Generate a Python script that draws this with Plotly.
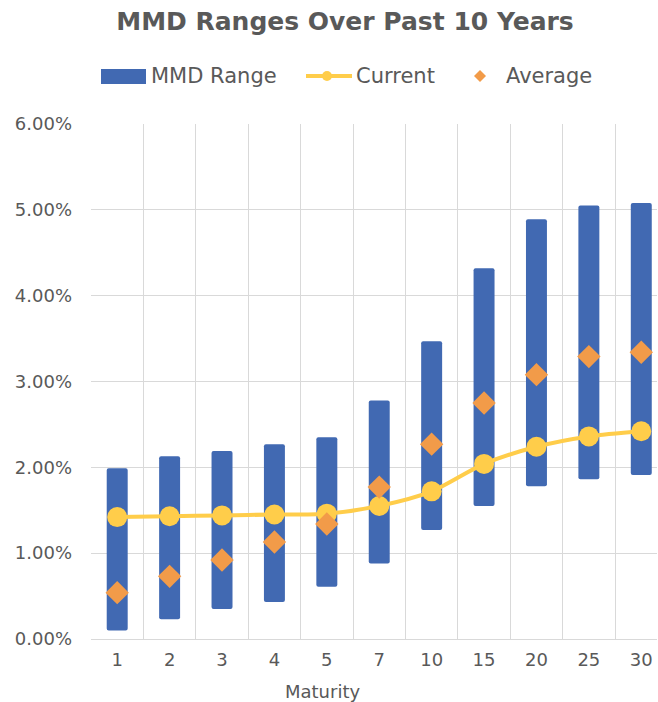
import plotly.graph_objects as go

maturities = ["1", "2", "3", "4", "5", "7", "10", "15", "20", "25", "30"]
range_low = [0.10, 0.23, 0.35, 0.43, 0.61, 0.88, 1.27, 1.55, 1.78, 1.86, 1.91]
range_high = [1.99, 2.13, 2.19, 2.27, 2.35, 2.78, 3.47, 4.32, 4.89, 5.05, 5.08]
current = [1.42, 1.43, 1.44, 1.45, 1.46, 1.55, 1.72, 2.04, 2.24, 2.36, 2.42]
average = [0.54, 0.73, 0.92, 1.13, 1.34, 1.77, 2.27, 2.75, 3.08, 3.29, 3.34]
y_ticks = [0, 1, 2, 3, 4, 5, 6]
y_tick_labels = [f"{v:.2f}%" for v in y_ticks]

BLUE = "#4169B2"
GOLD = "#FFCD4A"
ORANGE = "#F29B49"
TEXT = "#595959"
GRID = "#D9D9D9"
FONT = "DejaVu Sans"

fig = go.Figure()
fig.add_trace(go.Bar(
    x=maturities,
    y=[h - l for h, l in zip(range_high, range_low)],
    base=range_low,
    width=0.4,
    marker=dict(color=BLUE, line=dict(width=0), cornerradius=2),
    name="MMD Range",
    showlegend=False,
))
fig.add_trace(go.Scatter(
    x=maturities, y=current, mode="lines+markers",
    line=dict(color=GOLD, width=4, shape="spline", smoothing=0.8),
    marker=dict(color=GOLD, size=20),
    name="Current", showlegend=False,
))
fig.add_trace(go.Scatter(
    x=maturities, y=average, mode="markers",
    marker=dict(color=ORANGE, size=18, symbol="diamond"),
    name="Average", showlegend=False,
))

W, H = 658, 702
# plot area in page pixels
PL, PR, PT, PB = 91, 657, 124, 639
L, T = PL, PT
R = W - PR
B = H - PB
pw, ph = PR - PL, PB - PT


def px(x):
    return (x - PL) / pw


def py(y):
    return (PB - y) / ph


shapes = [
    dict(type="rect", xref="paper", yref="paper", x0=px(101), x1=px(146),
         y0=py(84), y1=py(69), fillcolor=BLUE, line=dict(width=0)),
    dict(type="line", xref="paper", yref="paper", x0=px(306), x1=px(352),
         y0=py(76), y1=py(76), line=dict(color=GOLD, width=4)),
    dict(type="circle", xref="paper", yref="paper", x0=px(322), x1=px(332),
         y0=py(81), y1=py(71), fillcolor=GOLD, line=dict(width=0)),
    dict(type="path", xref="paper", yref="paper",
         path=f"M {px(474)} {py(76)} L {px(480)} {py(70)} L {px(486)} {py(76)} L {px(480)} {py(82)} Z",
         fillcolor=ORANGE, line=dict(width=0)),
]
annotations = [
    dict(text="MMD Range", x=px(149), y=py(76), xref="paper", yref="paper",
         xanchor="left", yanchor="middle", showarrow=False,
         font=dict(family=FONT, size=21, color=TEXT)),
    dict(text="Current", x=px(354), y=py(76), xref="paper", yref="paper",
         xanchor="left", yanchor="middle", showarrow=False,
         font=dict(family=FONT, size=21, color=TEXT)),
    dict(text="Average", x=px(504), y=py(76), xref="paper", yref="paper",
         xanchor="left", yanchor="middle", showarrow=False,
         font=dict(family=FONT, size=21, color=TEXT)),
    dict(text="Maturity", x=px(322), y=py(691), xref="paper", yref="paper",
         xanchor="center", yanchor="middle", showarrow=False,
         font=dict(family=FONT, size=18, color=TEXT)),
]

fig.update_layout(
    width=W, height=H,
    margin=dict(l=L, r=R, t=T, b=B),
    paper_bgcolor="white", plot_bgcolor="white",
    hovermode=False,
    title=dict(text="<b>MMD Ranges Over Past 10 Years</b>", x=345 / W, xanchor="center",
               y=1 - 21 / H, yanchor="middle", xref="container", yref="container",
               font=dict(family=FONT, size=25, color=TEXT)),
    shapes=shapes,
    annotations=annotations,
    xaxis=dict(
        type="category", tickson="boundaries", showgrid=True, gridcolor=GRID, gridwidth=1,
        ticks="", showline=False, zeroline=False, ticklabelstandoff=8,
        tickfont=dict(family=FONT, size=18, color=TEXT),
        range=[-0.5, 10.3], automargin=False,
    ),
    yaxis=dict(
        range=[0, 6], tickvals=y_ticks, ticktext=y_tick_labels,
        showgrid=True, gridcolor=GRID, gridwidth=1, zeroline=True, zerolinecolor=GRID,
        zerolinewidth=1, showline=False, ticks="", ticklabelstandoff=18,
        tickfont=dict(family=FONT, size=18, color=TEXT), automargin=False,
    ),
)

fig.write_html(
    "out.html",
    config={"displayModeBar": False, "staticPlot": True},
    post_script="document.body.style.margin='0';document.body.style.overflow='hidden';",
)
